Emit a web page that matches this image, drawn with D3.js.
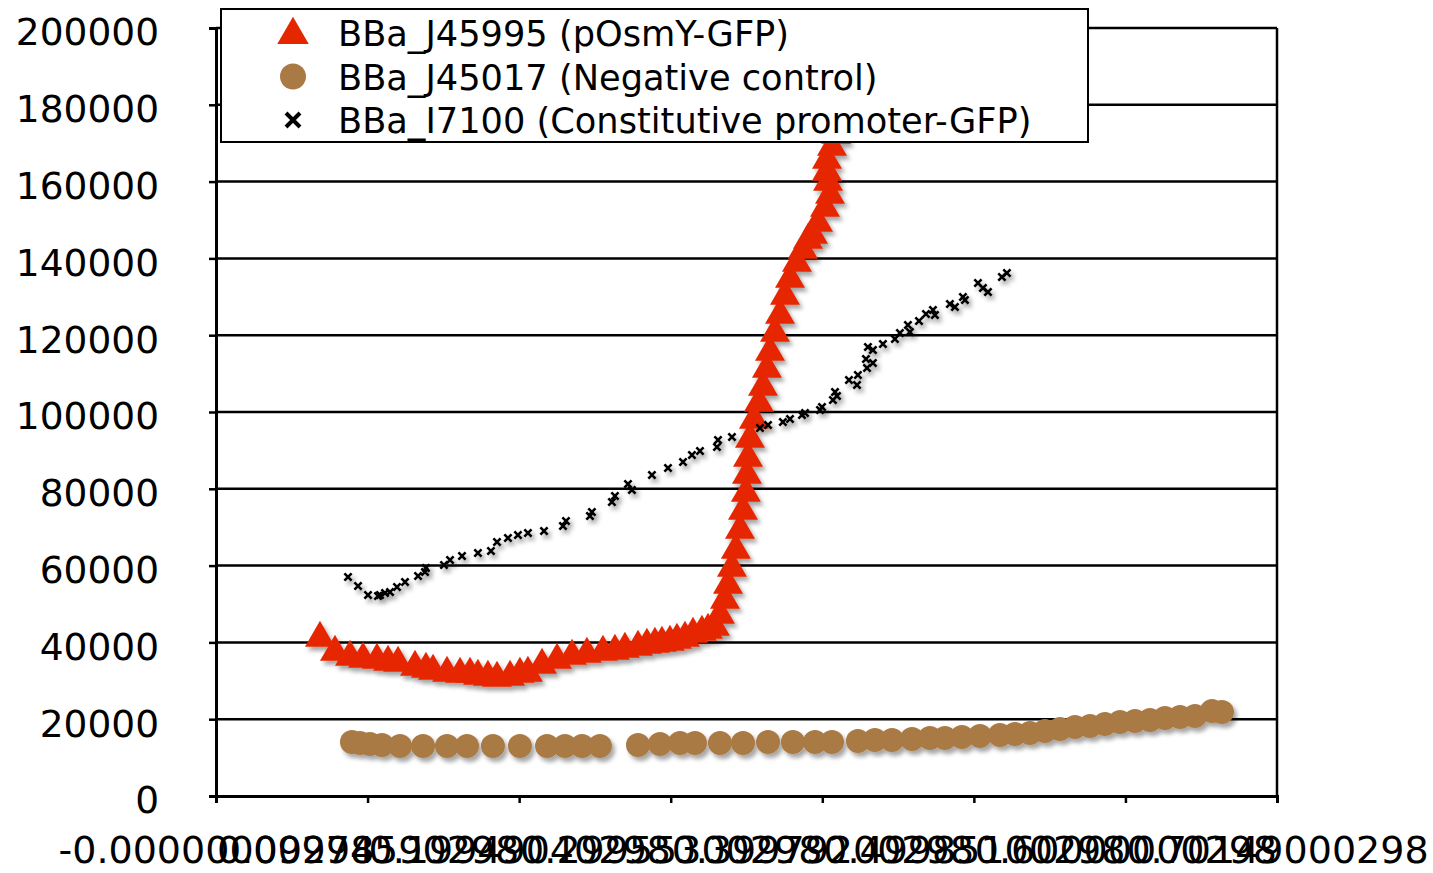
<!DOCTYPE html>
<html>
<head>
<meta charset="utf-8">
<script src="https://cdn.jsdelivr.net/npm/d3@7"></script>
<style>
    body { margin: 0; background: #fff; }
    #chart svg { display: block; }
    text { font-family: "DejaVu Sans", Verdana, sans-serif; fill: #000; }
</style>
</head>
<body>
<div id="chart"></div>
<script>
    // x tick labels as printed on the original (overlapping float artifacts)
    const xTickValues = [0, 0.1, 0.2, 0.3, 0.4, 0.5, 0.6, 0.7];
    const xTickLabels = ["-0.00000000298", "0.09974590298", "0.19949040298", "0.29955300298",
        "0.39979200298", "0.49985100298", "0.60000000298", "0.70149000298"];
    const yTickValues = [0, 20000, 40000, 60000, 80000, 100000, 120000, 140000, 160000, 180000, 200000];

    const seriesNames = ["BBa_J45995 (pOsmY-GFP)", "BBa_J45017 (Negative control)", "BBa_I7100 (Constitutive promoter-GFP)"];

    // BBa_J45995 (pOsmY-GFP) - [x, y]
    const osmyData = [
        [0.0686, 41143], [0.0785, 37498], [0.0884, 36196], [0.0970, 35675], [0.1062, 35414],
        [0.1135, 34894], [0.1201, 34633], [0.1313, 33592], [0.1385, 33071], [0.1432, 32550],
        [0.1524, 32029], [0.1610, 31769], [0.1676, 31769], [0.1728, 31248], [0.1794, 30988],
        [0.1854, 30727], [0.1940, 30988], [0.2005, 31769], [0.2058, 32029], [0.2151, 34112],
        [0.2250, 35414], [0.2349, 36456], [0.2447, 36977], [0.2553, 37498], [0.2632, 37758],
        [0.2698, 38279], [0.2784, 38800], [0.2843, 39320], [0.2896, 39581], [0.2942, 39841],
        [0.2995, 40102], [0.3041, 40622], [0.3094, 41143], [0.3147, 42185], [0.3206, 42706],
        [0.3246, 43226], [0.3292, 44008], [0.3325, 47132], [0.3358, 51038], [0.3378, 54944],
        [0.3404, 59371], [0.3430, 64058], [0.3457, 69266], [0.3477, 74214], [0.3496, 78901],
        [0.3503, 83588], [0.3510, 88015], [0.3523, 92963], [0.3549, 97910], [0.3582, 102337],
        [0.3609, 106504], [0.3635, 111191], [0.3655, 115618], [0.3688, 120565], [0.3721, 125252],
        [0.3754, 130200], [0.3787, 134627], [0.3833, 138793], [0.3872, 142178], [0.3906, 144782],
        [0.3939, 146084], [0.3972, 149209], [0.4018, 153115], [0.4051, 156500], [0.4038, 159886],
        [0.4031, 162490], [0.4031, 165614], [0.4064, 169000], [0.4091, 172124], [0.4130, 177332],
        [0.4169, 182540]
    ];

    // BBa_J45017 (Negative control)
    const negData = [
        [0.0897, 14062], [0.0950, 13801], [0.1016, 13541], [0.1095, 13280], [0.1214, 13020],
        [0.1366, 13020], [0.1524, 13020], [0.1656, 13020], [0.1827, 13020], [0.2005, 13020],
        [0.2184, 13020], [0.2302, 13020], [0.2415, 13020], [0.2533, 13020], [0.2784, 13280],
        [0.2929, 13541], [0.3061, 13801], [0.3160, 13801], [0.3325, 13801], [0.3477, 13801],
        [0.3642, 14062], [0.3806, 14062], [0.3952, 14062], [0.4064, 14062], [0.4235, 14322],
        [0.4347, 14582], [0.4460, 14582], [0.4592, 14843], [0.4710, 15103], [0.4809, 15103],
        [0.4921, 15364], [0.5040, 15624], [0.5172, 15884], [0.5271, 16145], [0.5370, 16405],
        [0.5469, 16926], [0.5568, 17447], [0.5667, 17968], [0.5766, 18228], [0.5865, 18749],
        [0.5964, 19270], [0.6063, 19530], [0.6162, 19790], [0.6261, 20311], [0.6360, 20572],
        [0.6459, 20832], [0.6571, 22134], [0.6637, 21874]
    ];

    // BBa_I7100 (Constitutive promoter-GFP)
    const constData = [
        [0.0871, 57028], [0.0937, 54684], [0.1003, 52341], [0.1069, 52080], [0.1082, 52341],
        [0.1115, 52862], [0.1148, 53122], [0.1194, 54424], [0.1247, 55726], [0.1333, 57288],
        [0.1379, 58330], [0.1385, 59371], [0.1504, 60152], [0.1544, 61454], [0.1623, 62496],
        [0.1728, 63277], [0.1814, 63798], [0.1854, 66142], [0.1926, 67183], [0.1992, 67964],
        [0.2058, 68485], [0.2164, 69006], [0.2289, 70308], [0.2309, 71610], [0.2467, 72912],
        [0.2480, 73954], [0.2612, 76558], [0.2632, 78120], [0.2718, 81245], [0.2744, 79682],
        [0.2876, 83588], [0.2982, 85411], [0.3081, 86974], [0.3140, 88796], [0.3193, 89838],
        [0.3305, 90880], [0.3312, 92702], [0.3404, 93484], [0.3589, 95827], [0.3642, 96608],
        [0.3740, 97390], [0.3787, 98171], [0.3866, 99212], [0.3886, 99733], [0.3985, 100514],
        [0.3998, 101296], [0.4070, 103118], [0.4084, 105202], [0.4097, 104160], [0.4176, 108326],
        [0.4229, 107024], [0.4235, 109628], [0.4295, 111451], [0.4288, 113795], [0.4301, 116920],
        [0.4334, 116138], [0.4334, 112753], [0.4400, 117701], [0.4479, 119003], [0.4512, 120565],
        [0.4565, 122648], [0.4578, 120826], [0.4638, 123690], [0.4684, 125513], [0.4730, 126554],
        [0.4743, 125252], [0.4842, 128117], [0.4875, 127336], [0.4928, 129940], [0.4941, 129158],
        [0.5027, 133585], [0.5060, 132283], [0.5093, 131242], [0.5185, 135148], [0.5218, 136190]
    ];

    const width = 1433;
    const height = 873;
    const margin = { left: 216, right: 156, top: 28, bottom: 77 };

    const red = "#e52700";
    const brown = "#aa7a45";

    const x = d3.scaleLinear()
        .domain([0, 0.7])
        .range([margin.left, width - margin.right]);

    const y = d3.scaleLinear()
        .domain([0, 200000])
        .range([height - margin.bottom, margin.top]);

    const svg = d3.select("#chart").append("svg")
        .attr("width", width)
        .attr("height", height);

    const defs = svg.append("defs");
    defs.append("filter")
        .attr("id", "shadow")
        .attr("x", "-50%").attr("y", "-50%")
        .attr("width", "200%").attr("height", "200%")
        .append("feDropShadow")
        .attr("dx", 3)
        .attr("dy", 4)
        .attr("stdDeviation", 2.2)
        .attr("flood-color", "#000")
        .attr("flood-opacity", 0.35);

    // horizontal gridlines
    svg.append("g")
        .selectAll("line")
        .data(yTickValues.slice(1))
        .join("line")
        .attr("x1", x(0))
        .attr("x2", x(0.7))
        .attr("y1", d => y(d))
        .attr("y2", d => y(d))
        .attr("stroke", "#000")
        .attr("stroke-width", 2.5);

    // right border
    svg.append("line")
        .attr("x1", x(0.7)).attr("x2", x(0.7))
        .attr("y1", y(200000)).attr("y2", y(0))
        .attr("stroke", "#000")
        .attr("stroke-width", 2.5);

    // y axis
    const yAxis = svg.append("g")
        .attr("transform", `translate(${x(0)},0)`)
        .call(d3.axisLeft(y).tickValues(yTickValues).tickFormat(d3.format("d")).tickSize(7).tickPadding(50));
    yAxis.select(".domain").attr("stroke", "#000").attr("stroke-width", 3);
    yAxis.selectAll(".tick line").attr("stroke", "#000").attr("stroke-width", 2.5);
    yAxis.selectAll(".tick text")
        .attr("font-size", "37.5px")
        .attr("dy", "0.45em")
        .style("font-family", "'DejaVu Sans', Verdana, sans-serif");

    // x axis
    const xAxis = svg.append("g")
        .attr("transform", `translate(0,${y(0)})`)
        .call(d3.axisBottom(x).tickValues(xTickValues).tickFormat((d, i) => xTickLabels[i]).tickSize(7).tickPadding(33));
    xAxis.select(".domain").attr("stroke", "#000").attr("stroke-width", 3);
    xAxis.selectAll(".tick line").attr("stroke", "#000").attr("stroke-width", 2.5);
    xAxis.selectAll(".tick text")
        .attr("font-size", "38px")
        .attr("dy", "0.71em")
        .style("font-family", "'DejaVu Sans', Verdana, sans-serif");

    const triangle = d3.symbol().type(d3.symbolTriangle).size(390);
    const crossPath = "M-3.6,-3.6L3.6,3.6M-3.6,3.6L3.6,-3.6";

    const plot = svg.append("g").attr("filter", "url(#shadow)");

    plot.append("g")
        .selectAll("path")
        .data(osmyData)
        .join("path")
        .attr("d", triangle)
        .attr("transform", d => `translate(${x(d[0])},${y(d[1])})`)
        .attr("fill", red);

    plot.append("g")
        .selectAll("circle")
        .data(negData)
        .join("circle")
        .attr("cx", d => x(d[0]))
        .attr("cy", d => y(d[1]))
        .attr("r", 12)
        .attr("fill", brown);

    plot.append("g")
        .selectAll("path")
        .data(constData)
        .join("path")
        .attr("d", crossPath)
        .attr("transform", d => `translate(${x(d[0])},${y(d[1])})`)
        .attr("stroke", "#000")
        .attr("stroke-width", 2.6)
        .attr("fill", "none");

    // legend
    const legend = svg.append("g").attr("transform", "translate(221,9)");
    legend.append("rect")
        .attr("width", 867)
        .attr("height", 133)
        .attr("fill", "#fff")
        .attr("stroke", "#000")
        .attr("stroke-width", 2);

    const rows = legend.selectAll("g.row")
        .data(seriesNames)
        .join("g")
        .attr("class", "row")
        .attr("transform", (d, i) => `translate(72,${24 + i * 43.5})`);

    rows.append("text")
        .attr("x", 45)
        .attr("y", 13)
        .attr("font-size", "35.2px")
        .text(d => d);

    rows.filter((d, i) => i === 0).append("path")
        .attr("d", d3.symbol().type(d3.symbolTriangle).size(430))
        .attr("transform", "translate(0,2)")
        .attr("fill", red);
    rows.filter((d, i) => i === 1).append("circle")
        .attr("r", 13)
        .attr("fill", brown);
    rows.filter((d, i) => i === 2).append("path")
        .attr("d", "M-7,-7L7,7M-7,7L7,-7")
        .attr("stroke", "#000")
        .attr("stroke-width", 4)
        .attr("fill", "none");
</script>
</body>
</html>
